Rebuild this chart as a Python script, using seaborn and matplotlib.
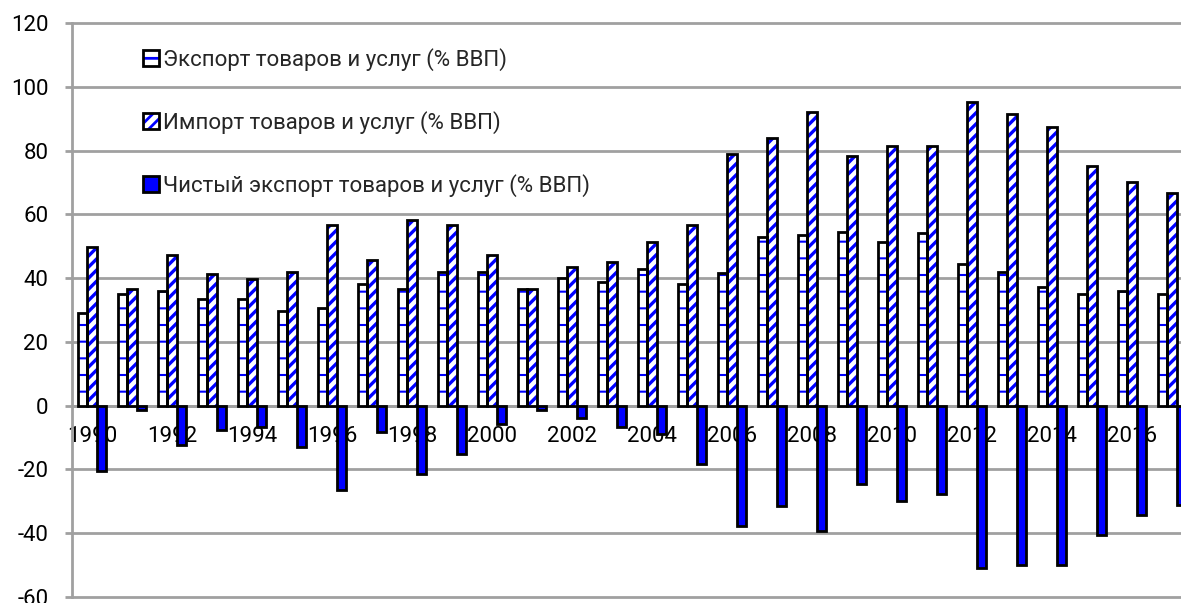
import numpy as np
import pandas as pd
import matplotlib
matplotlib.use("Agg")
import matplotlib.pyplot as plt
import seaborn as sns
from matplotlib.patches import Rectangle, Patch

years = list(range(1990, 2018))
export = [29.0, 35.1, 35.9, 33.5, 33.4, 29.6, 30.5, 38.2, 36.6, 42.0,
          42.0, 36.6, 39.9, 38.9, 42.9, 38.2, 41.5, 52.8, 53.6, 54.4,
          51.3, 54.2, 44.5, 42.0, 37.3, 35.1, 35.9, 35.1]
imports = [49.8, 36.5, 47.4, 41.4, 39.7, 42.0, 56.6, 45.7, 58.1, 56.8,
           47.4, 36.6, 43.4, 45.2, 51.3, 56.8, 79.0, 83.8, 92.2, 78.3,
           81.4, 81.5, 95.3, 91.5, 87.5, 75.1, 70.0, 66.6]
net = [-20.5, -1.3, -12.2, -7.5, -6.8, -13.0, -26.4, -8.3, -21.4, -15.3,
       -5.9, -1.3, -3.9, -6.8, -8.9, -18.2, -37.7, -31.6, -39.3, -24.7,
       -29.9, -27.8, -50.8, -50.0, -50.0, -40.6, -34.4, -31.3]
series_names = ["Экспорт товаров и услуг (% ВВП)",
                "Импорт товаров и услуг (% ВВП)",
                "Чистый экспорт товаров и услуг (% ВВП)"]
xtick_years = years[::2]
yticks = list(range(-60, 121, 20))

sns.set_style("white")
plt.rcParams["font.family"] = ["Roboto", "DejaVu Sans"]
plt.rcParams["hatch.linewidth"] = 2.0
plt.rcParams["axes.unicode_minus"] = False

BLUE = "#0000FF"
GRID = "#a0a0a0"

df = pd.DataFrame({
    "year": [str(y) for y in years] * 3,
    "series": np.repeat(series_names, len(years)),
    "value": export + imports + net,
})

fig = plt.figure(figsize=(11.81, 6.03), dpi=100)
ax = fig.add_axes([72 / 1181, 6 / 603, 1120 / 1181, 574 / 603])
sns.barplot(data=df, x="year", y="value", hue="series", hue_order=series_names,
            order=[str(y) for y in years], width=0.72, ax=ax, legend=False,
            saturation=1, errorbar=None)

styles = [dict(fc="white", hatch="-", hlw=1.5),
          dict(fc="white", hatch="///", hlw=2.4),
          dict(fc=BLUE, hatch=None, hlw=1.0)]


def style_patch(p, st):
    p.set_facecolor(st["fc"])
    p.set_edgecolor(BLUE)
    p.set_linewidth(0)
    p.set_hatch(st["hatch"])
    if hasattr(p, "set_hatch_linewidth"):
        p.set_hatch_linewidth(st["hlw"])


for cont, st in zip(ax.containers, styles):
    for p in cont:
        style_patch(p, st)
        p.set_zorder(2)
        ax.add_patch(Rectangle((p.get_x(), p.get_y()), p.get_width(), p.get_height(),
                               fill=False, ec="black", lw=2, zorder=2.1))

ax.set_xlim(-0.5, len(years) - 0.5)
ax.set_ylim(-60, 120)
ax.set_xlabel("")
ax.set_ylabel("")

ax.set_xticks([years.index(y) for y in xtick_years])
ax.set_xticklabels([str(y) for y in xtick_years])
ax.set_xticks(np.arange(-0.5, len(years), 1), minor=True)
ax.tick_params(axis="x", which="major", length=0, pad=15, labelsize=16, labelcolor="black")
ax.tick_params(axis="x", which="minor", length=5, width=2, color=GRID, direction="out")
ax.set_yticks(yticks)
ax.tick_params(axis="y", length=5, width=2, color=GRID, pad=12, labelsize=16,
               labelcolor="black", direction="out", left=True)
ax.grid(axis="y", color=GRID, lw=2)
ax.set_axisbelow(True)
for gl in ax.yaxis.get_gridlines():
    gl.set_clip_on(False)

ax.spines["top"].set_visible(False)
ax.spines["right"].set_visible(False)
ax.spines["left"].set_color(GRID)
ax.spines["left"].set_linewidth(2)
ax.spines["bottom"].set_position(("data", 0))
ax.spines["bottom"].set_color(GRID)
ax.spines["bottom"].set_linewidth(2)
ax.spines["bottom"].set_zorder(1.5)
ax.spines["left"].set_zorder(1.5)

handles = []
for st in styles:
    h = Patch()
    style_patch(h, st)
    o = Patch(facecolor="none", edgecolor="black", lw=2)
    handles.append((h, o))
ax.legend(handles=handles, labels=series_names, loc="upper left",
          bbox_to_anchor=(143 / 1181, 1 - 48 / 603), bbox_transform=fig.transFigure,
          frameon=False, fontsize=16, handlelength=0.7, handleheight=0.7,
          handletextpad=0.2, labelspacing=1.8, borderpad=0, borderaxespad=0)

fig.savefig("out.png", dpi=100)
